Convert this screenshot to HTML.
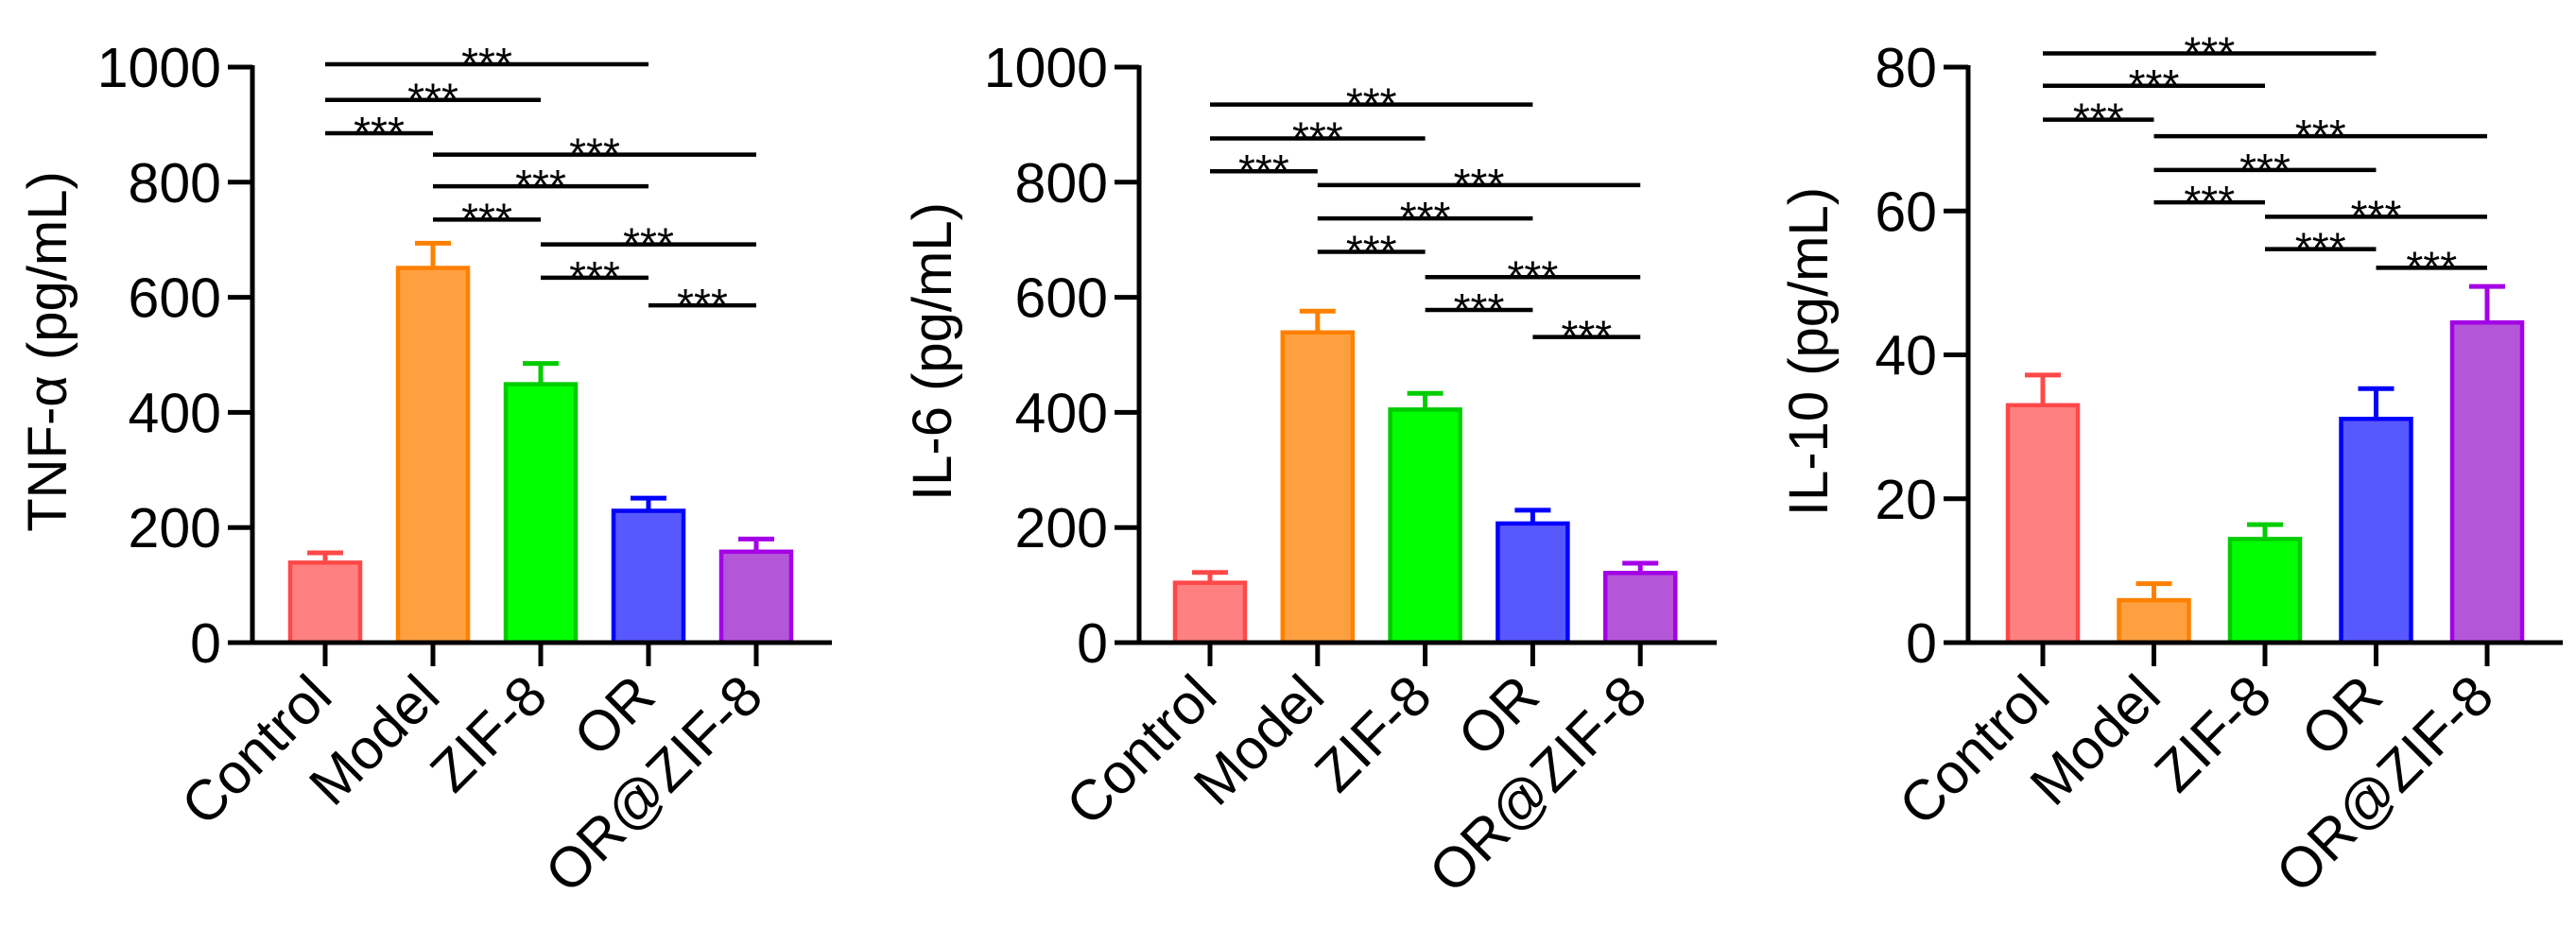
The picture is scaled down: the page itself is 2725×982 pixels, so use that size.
<!DOCTYPE html>
<html><head><meta charset="utf-8"><style>
html,body{margin:0;padding:0;background:#fff;}
svg{display:block;font-family:"Liberation Sans",Arial,sans-serif;}
</style></head><body>
<svg id="fig" width="2725" height="982" viewBox="0 0 2725 982" xmlns="http://www.w3.org/2000/svg"></svg>
<script>
const categories = ["Control","Model","ZIF-8","OR","OR@ZIF-8"];
const tnfValues = [139,651,449,229,158];
const tnfErrors = [17,43,36,22,22];
const il6Values = [104,539,405,207,121];
const il6Errors = [18,37,28,23,17];
const il10Values = [33.0,5.9,14.4,31.1,44.5];
const il10Errors = [4.2,2.3,2.0,4.2,5.0];
const tnfTicks = [0,200,400,600,800,1000];
const il6Ticks = [0,200,400,600,800,1000];
const il10Ticks = [0,20,40,60,80];
const bracketPairs = [[0,3],[0,2],[0,1],[1,4],[1,3],[1,2],[2,4],[2,3],[3,4]];
const tnfBracketLevels = [1005,943,885,848,793,735,692,634,586];
const il6BracketLevels = [935,876,819,795,737,679,635,578,531];
const il10BracketLevels = [81.9,77.4,72.7,70.4,65.7,61.2,59.2,54.7,52.1];
const bracketLabels = ["***","***","***","***","***","***","***","***","***"];

const fills = ["#ff8080","#ffa040","#00ff00","#5858ff","#b456d8"];
const strokes = ["#ff4848","#ff8000","#00cc00","#0000ff","#a400e6"];
const NS = "http://www.w3.org/2000/svg";
const svg = document.getElementById("fig");
function mk(tag, attrs, parent){const e=document.createElementNS(NS,tag);for(const k in attrs)e.setAttribute(k,attrs[k]);(parent||svg).appendChild(e);return e;}

function panel(cfg){
  const g = mk("g",{});
  
  
  const y0=680, yTop=71;
  const yScale = v => y0 - (v/cfg.max)*(y0-yTop);
  const xScale = i => cfg.x0 + i*cfg.step;
  cfg.values.forEach((v,i)=>{
    const cx=xScale(i), w=74;
    const err = mk("g",{},g);
    
    
    mk("line",{x1:cx,x2:cx,y1:yScale(v),y2:yScale(v+cfg.errors[i]),stroke:strokes[i],"stroke-width":5},err);
    mk("line",{x1:cx-19,x2:cx+19,y1:yScale(v+cfg.errors[i]),y2:yScale(v+cfg.errors[i]),stroke:strokes[i],"stroke-width":5},err);
    const r = mk("rect",{x:cx-w/2,y:yScale(v),width:w,height:y0-yScale(v),fill:fills[i],stroke:strokes[i],"stroke-width":4.5},g);
    
    
  });
  const ya = mk("line",{x1:cfg.axisX,x2:cfg.axisX,y1:yTop-2,y2:y0+2,stroke:"#000","stroke-width":5},g);
  
  
  const xa = mk("line",{x1:cfg.axisX-26,x2:cfg.axisEnd,y1:y0,y2:y0,stroke:"#000","stroke-width":5},g);
  
  
  cfg.ticks.forEach(t=>{
    const y=yScale(t);
    mk("line",{x1:cfg.axisX-26,x2:cfg.axisX,y1:y,y2:y,stroke:"#000","stroke-width":5},g);
    const tx = mk("text",{x:cfg.axisX-33,y:y+21,"text-anchor":"end","font-size":59,fill:"#000"},g);
    tx.textContent=t;
    
    
  });
  categories.forEach((c,i)=>{
    const cx=xScale(i);
    mk("line",{x1:cx,x2:cx,y1:y0,y2:y0+25,stroke:"#000","stroke-width":5},g);
    const ax=cx+10, ay=y0+60;
    const tx = mk("text",{x:ax,y:ay,"text-anchor":"end","font-size":60,fill:"#000",transform:`rotate(-45 ${ax} ${ay})`},g);
    tx.textContent=c;
    
    
  });
  const yl = mk("text",{x:cfg.labelX,y:372,"text-anchor":"middle","font-size":58,fill:"#000",transform:`rotate(-90 ${cfg.labelX} 372)`},g);
  yl.textContent=cfg.title;
  
  
  bracketPairs.forEach((p,k)=>{
    const y=yScale(cfg.brackets[k]);
    const b = mk("g",{},g);
    
    
    mk("line",{x1:xScale(p[0]),x2:xScale(p[1]),y1:y,y2:y,stroke:"#000","stroke-width":4.5},b);
    const s = mk("text",{x:(xScale(p[0])+xScale(p[1]))/2,y:y+15,"text-anchor":"middle","font-size":46,fill:"#000"},b);
    s.textContent=bracketLabels[k];
  });
}
panel({name:"tnf",title:"TNF-α (pg/mL)",values:tnfValues,errors:tnfErrors,ticks:tnfTicks,brackets:tnfBracketLevels,max:1000,axisX:267,axisEnd:880,x0:344,step:114,labelX:70});
panel({name:"il6",title:"IL-6 (pg/mL)",values:il6Values,errors:il6Errors,ticks:il6Ticks,brackets:il6BracketLevels,max:1000,axisX:1205,axisEnd:1816,x0:1280,step:113.8,labelX:1006});
panel({name:"il10",title:"IL-10 (pg/mL)",values:il10Values,errors:il10Errors,ticks:il10Ticks,brackets:il10BracketLevels,max:80,axisX:2082,axisEnd:2711,x0:2161,step:117.5,labelX:1933});
</script>
</body></html>
